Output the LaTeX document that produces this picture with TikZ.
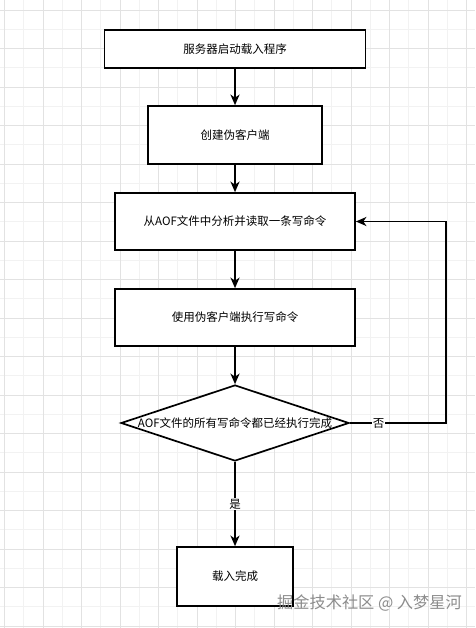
\documentclass[tikz,border=0pt]{standalone}
\usepackage{fontspec}
\setmainfont{Noto Sans CJK SC}
\usetikzlibrary{arrows.meta,shapes.geometric}
\definecolor{gminor}{HTML}{F2F2F2}
\definecolor{gmajor}{HTML}{E2E2E2}
\definecolor{wm}{HTML}{8C8C8C}
\tikzset{
  boxnode/.style={draw=black, line width=1.7pt, fill=white, inner sep=0pt, align=center, font=\fontsize{11.5}{14}\selectfont},
  conn/.style={line width=1.7pt, -{Stealth[length=10.5pt,width=9pt,inset=3pt]}},
  lbl/.style={fill=white, inner sep=1pt, font=\fontsize{11.5}{14}\selectfont},
  minorline/.style={draw=gminor, line width=0.6pt},
  majorline/.style={draw=gmajor, line width=0.8pt}
}
\begin{document}
\begin{tikzpicture}[x=1pt,y=-1pt]
\useasboundingbox (0,0) rectangle (475,628);
\fill[white] (0,0) rectangle (475,628);
% grid
\foreach \i in {0,...,24} {
  \pgfmathsetmacro{\gx}{4.5+19.25*\i}
  \draw[minorline] (\gx,0) -- (\gx,628);
}
\foreach \i in {0,...,33} {
  \pgfmathsetmacro{\gy}{-9.25+19.25*\i}
  \draw[minorline] (0,\gy) -- (475,\gy);
}
\foreach \i in {0,...,12} {
  \pgfmathsetmacro{\gx}{4.5+38.5*\i}
  \draw[majorline] (\gx,0) -- (\gx,628);
}
\foreach \i in {0,...,16} {
  \pgfmathsetmacro{\gy}{10+38.5*\i}
  \draw[majorline] (0,\gy) -- (475,\gy);
}
% nodes
\node[boxnode, minimum width=261pt, minimum height=38pt] (b1) at (235,49) {服务器启动载入程序};
\node[boxnode, minimum width=174pt, minimum height=58pt] (b2) at (235,135) {创建伪客户端};
\node[boxnode, minimum width=240pt, minimum height=57pt] (b3) at (235,221.5) {从AOF文件中分析并读取一条写命令};
\node[boxnode, minimum width=240pt, minimum height=57pt] (b4) at (235,317.5) {使用伪客户端执行写命令};
\node[diamond, draw=black, line width=1.7pt, fill=white, minimum width=228pt, minimum height=76pt, inner sep=0pt] (d) at (235,423) {};
\node[font=\fontsize{11.5}{14}\selectfont, inner sep=0pt] (dt) at (d.center) {AOF文件的所有写命令都已经执行完成};
\node[boxnode, minimum width=116pt, minimum height=59pt] (b5) at (235,576.5) {载入完成};
\coordinate (c1) at (446,423);
\coordinate (c2) at (446,221.5);
% connectors
\draw[conn] (b1) -- (b2);
\draw[conn] (b2) -- (b3);
\draw[conn] (b3) -- (b4);
\draw[conn] (b4) -- (d);
\draw[conn] (d) -- node[lbl, pos=0.5] (yes) {是} (b5);
\draw[conn] (d.east) -- node[lbl, pos=0.3] (no) {否} (c1) -- (c2) -- (b3.east);
% watermark
\node[anchor=west, text=wm, font=\fontsize{16.2}{19}\selectfont, inner sep=0pt] (w) at (277,603) {掘金技术社区 @ 入梦星河};
\end{tikzpicture}
\end{document}
